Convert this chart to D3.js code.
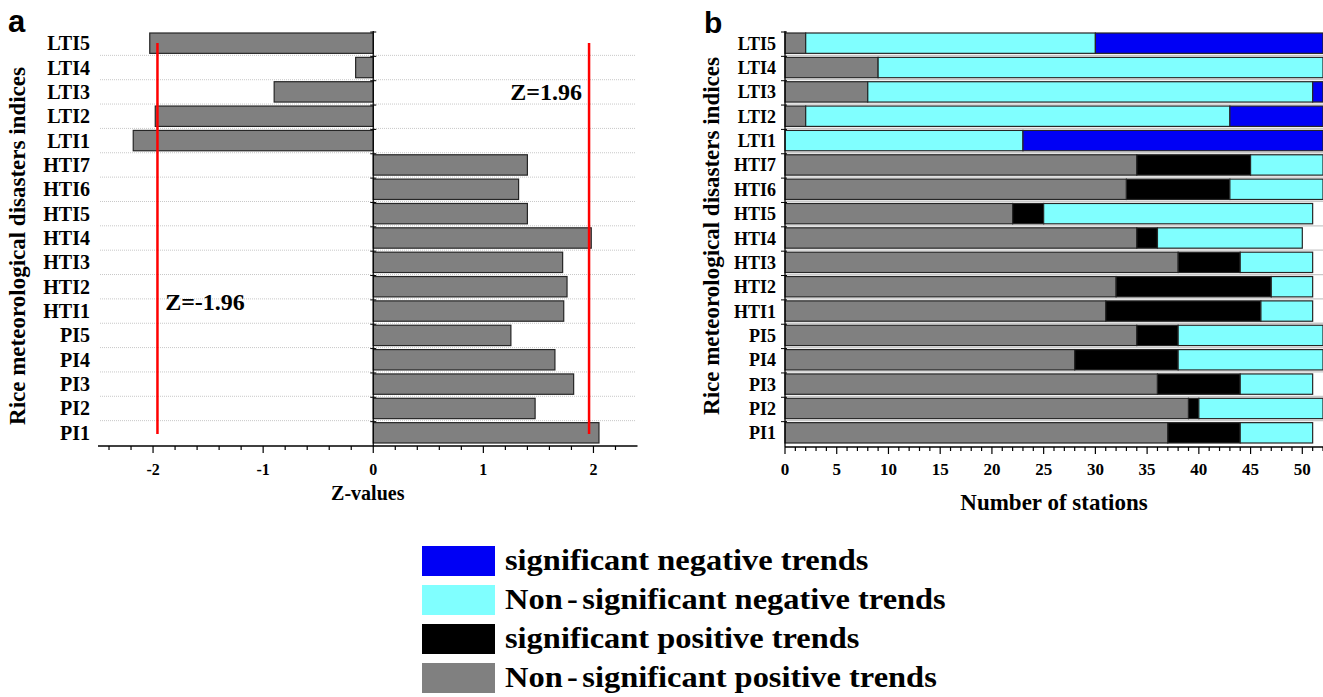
<!DOCTYPE html>
<html>
<head>
<meta charset="utf-8">
<script src="https://cdn.jsdelivr.net/npm/d3@7"></script>
<style>
  body { margin: 0; background: #fff; }
  svg { display: block; }
  text { font-family: "Liberation Serif", "Times New Roman", serif; font-weight: bold; fill: #000; }
</style>
</head>
<body>
<div id="chart"></div>
<script>
// Data
const categories = ["LTI5", "LTI4", "LTI3", "LTI2", "LTI1", "HTI7", "HTI6", "HTI5", "HTI4",
                    "HTI3", "HTI2", "HTI1", "PI5", "PI4", "PI3", "PI2", "PI1"];
const zValues = [-2.03, -0.16, -0.90, -1.98, -2.18, 1.40, 1.32, 1.40, 1.98,
                 1.72, 1.76, 1.73, 1.25, 1.65, 1.82, 1.47, 2.05];
const zCritical = [-1.96, 1.96];
const zTicks = [-2, -1, 0, 1, 2];

const nonSigPos = [2, 9, 8, 2, 0, 34, 33, 22, 34, 38, 32, 31, 34, 28, 36, 39, 37];
const sigPos    = [0, 0, 0, 0, 0, 11, 10, 3, 2, 6, 15, 15, 4, 10, 8, 1, 7];
const nonSigNeg = [28, 43, 43, 41, 23, 7, 9, 26, 14, 7, 4, 5, 14, 14, 7, 12, 7];
const sigNeg    = [22, 0, 1, 9, 29, 0, 0, 0, 0, 0, 0, 0, 0, 0, 0, 0, 0];
const stationTicks = [0, 5, 10, 15, 20, 25, 30, 35, 40, 45, 50];

const legendLabels = ["significant negative trends", "Non-significant negative trends",
                      "significant positive trends", "Non-significant positive trends"];
const legendKeys = ["sigNeg", "nonSigNeg", "sigPos", "nonSigPos"];

const width = 1323, height = 697;
const colors = { nonSigPos: "#808080", sigPos: "#000000", nonSigNeg: "#80ffff", sigNeg: "#0000f5" };

const svg = d3.select("#chart").append("svg")
    .attr("width", width)
    .attr("height", height);

// shared row scale
const y = d3.scaleBand().domain(categories).range([32, 446]);
const barH = y.bandwidth() - 4;

// ---------- panel a ----------
const xa = d3.scaleLinear().domain([-2.5, 2.4]).range([98, 637.5]);
const ga = svg.append("g");

// dotted grid lines between rows
ga.selectAll(".grid")
    .data(categories.slice(1))
    .enter().append("line")
    .attr("x1", xa(-2.5) + 2).attr("x2", xa(2.4) - 2)
    .attr("y1", d => y(d) - 1).attr("y2", d => y(d) - 1)
    .attr("stroke", "#c8c8c8")
    .attr("stroke-dasharray", "1,1");

ga.selectAll(".zbar")
    .data(categories)
    .enter().append("rect")
    .attr("x", (d, i) => Math.min(xa(0), xa(zValues[i])))
    .attr("y", d => y(d) + 1)
    .attr("width", (d, i) => Math.abs(xa(zValues[i]) - xa(0)))
    .attr("height", barH)
    .attr("fill", "#808080")
    .attr("stroke", "#262626")
    .attr("stroke-width", 1.2);

// zero axis with row ticks
ga.append("line")
    .attr("x1", xa(0)).attr("x2", xa(0))
    .attr("y1", 31).attr("y2", 446)
    .attr("stroke", "#000").attr("stroke-width", 1.2);
ga.selectAll(".rtick")
    .data(categories)
    .enter().append("line")
    .attr("x1", xa(0) - 3).attr("x2", xa(0) + 3)
    .attr("y1", d => y(d)).attr("y2", d => y(d))
    .attr("stroke", "#000");

// critical values
ga.selectAll(".crit")
    .data(zCritical)
    .enter().append("line")
    .attr("x1", d => xa(d)).attr("x2", d => xa(d))
    .attr("y1", 43).attr("y2", 434)
    .attr("stroke", "#ff0000")
    .attr("stroke-width", 2.5);

ga.append("text")
    .attr("x", xa(1.245)).attr("y", 100)
    .attr("font-size", 24)
    .text("Z=1.96");
ga.append("text")
    .attr("x", xa(-1.89)).attr("y", 310)
    .attr("font-size", 24)
    .text("Z=-1.96");

// x axis
const axA = ga.append("g").attr("transform", "translate(0,446)");
axA.append("line")
    .attr("x1", xa(-2.5)).attr("x2", xa(2.4))
    .attr("stroke", "#000").attr("stroke-width", 1.3);
axA.selectAll(".mtick")
    .data(d3.range(-24, 24, 2).map(v => v / 10))
    .enter().append("line")
    .attr("x1", d => xa(d)).attr("x2", d => xa(d))
    .attr("y1", 0)
    .attr("y2", d => Math.abs(d - Math.round(d)) < 1e-6 ? 7 : 4)
    .attr("stroke", "#000").attr("stroke-width", 1.2);
axA.selectAll(".tl")
    .data(zTicks)
    .enter().append("text")
    .attr("x", d => xa(d))
    .attr("y", 29)
    .attr("text-anchor", "middle")
    .attr("font-size", 16)
    .text(d => d);
ga.append("text")
    .attr("x", (xa(-2.5) + xa(2.4)) / 2)
    .attr("y", 500)
    .attr("text-anchor", "middle")
    .attr("font-size", 20)
    .text("Z-values");

// row labels
ga.selectAll(".yl")
    .data(categories)
    .enter().append("text")
    .attr("x", 90)
    .attr("y", d => y(d) + 1 + barH / 2 + 7)
    .attr("text-anchor", "end")
    .attr("font-size", 20)
    .text(d => d);

ga.append("text")
    .attr("transform", "translate(25,246) rotate(-90)")
    .attr("text-anchor", "middle")
    .attr("font-size", 23)
    .text("Rice meteorological disasters indices");

svg.append("text")
    .attr("x", 8).attr("y", 32)
    .style("font-family", "'Liberation Sans', Arial, sans-serif")
    .attr("font-size", 31)
    .text("a");

// ---------- panel b ----------
const xb = d3.scaleLinear().domain([0, 52]).range([785, 1323]);
const gb = svg.append("g");

gb.append("clipPath").attr("id", "clipb")
    .append("rect")
    .attr("x", xb(0) - 2).attr("y", 0)
    .attr("width", xb(52) - xb(0) + 2).attr("height", height);

gb.selectAll(".grid")
    .data(categories.slice(1))
    .enter().append("line")
    .attr("x1", xb(0)).attr("x2", xb(52))
    .attr("y1", d => y(d) - 1).attr("y2", d => y(d) - 1)
    .attr("stroke", "#c8c8c8")
    .attr("stroke-width", 1.3);

const rows = categories.map((c, i) => ({
    cat: c, nonSigPos: nonSigPos[i], sigPos: sigPos[i], nonSigNeg: nonSigNeg[i], sigNeg: sigNeg[i]
}));
const stack = d3.stack().keys(["nonSigPos", "sigPos", "nonSigNeg", "sigNeg"]);
const series = stack(rows);

gb.append("g").attr("clip-path", "url(#clipb)")
    .selectAll("g")
    .data(series)
    .enter().append("g")
    .attr("fill", d => colors[d.key])
    .selectAll("rect")
    .data(d => d.filter(s => s[1] - s[0] > 0))
    .enter().append("rect")
    .attr("x", d => xb(d[0]))
    .attr("y", d => y(d.data.cat) + 1)
    .attr("width", d => xb(d[1]) - xb(d[0]))
    .attr("height", barH)
    .attr("stroke", "#262626")
    .attr("stroke-width", 1.2);

gb.append("line")
    .attr("x1", xb(0)).attr("x2", xb(0))
    .attr("y1", 31).attr("y2", 447)
    .attr("stroke", "#000").attr("stroke-width", 1.3);
gb.selectAll(".rtick")
    .data(categories)
    .enter().append("line")
    .attr("x1", xb(0) - 4).attr("x2", xb(0) + 2)
    .attr("y1", d => y(d)).attr("y2", d => y(d))
    .attr("stroke", "#000");

const axB = gb.append("g").attr("transform", "translate(0,447)");
axB.append("line")
    .attr("x1", xb(0)).attr("x2", xb(52))
    .attr("stroke", "#000").attr("stroke-width", 1.3);
axB.selectAll(".mtick")
    .data(d3.range(0, 53))
    .enter().append("line")
    .attr("x1", d => xb(d)).attr("x2", d => xb(d))
    .attr("y1", 0)
    .attr("y2", d => d % 5 === 0 ? 7 : 4)
    .attr("stroke", "#000").attr("stroke-width", 1.2);
axB.selectAll(".tl")
    .data(stationTicks)
    .enter().append("text")
    .attr("x", d => xb(d))
    .attr("y", 28)
    .attr("text-anchor", "middle")
    .attr("font-size", 17)
    .text(d => d);
gb.append("text")
    .attr("x", (xb(0) + xb(52)) / 2)
    .attr("y", 510)
    .attr("text-anchor", "middle")
    .attr("font-size", 23)
    .text("Number of stations");

gb.selectAll(".yl")
    .data(categories)
    .enter().append("text")
    .attr("x", 776)
    .attr("y", d => y(d) + 1 + barH / 2 + 6.5)
    .attr("text-anchor", "end")
    .attr("font-size", 18)
    .text(d => d);

gb.append("text")
    .attr("transform", "translate(719,236) rotate(-90)")
    .attr("text-anchor", "middle")
    .attr("font-size", 23)
    .text("Rice meteorological disasters indices");

svg.append("text")
    .attr("x", 704).attr("y", 33)
    .style("font-family", "'Liberation Sans', Arial, sans-serif")
    .attr("font-size", 30)
    .text("b");

// ---------- legend ----------
const lg = svg.append("g").attr("transform", "translate(422,546)");
const item = lg.selectAll(".item")
    .data(legendKeys)
    .enter().append("g")
    .attr("transform", (d, i) => `translate(0,${i * 39})`);
item.append("rect")
    .attr("width", 73).attr("height", 30)
    .attr("fill", d => colors[d]);
item.each(function (d, i) {
    const t = d3.select(this).append("text")
        .attr("x", 83).attr("y", 24)
        .attr("font-size", 29.5);
    const label = legendLabels[i];
    if (label.startsWith("Non-")) {
        t.append("tspan").text("Non");
        t.append("tspan").attr("dx", 4).text("-");
        t.append("tspan").attr("dx", 4).text(label.slice(4));
    } else {
        t.text(label);
    }
    // the figure's lettering is a little wider than the font
    const w = t.node().getBBox().width;
    t.attr("transform", `translate(83,0) scale(1.1,1) translate(-83,0)`);
});
</script>
</body>
</html>
